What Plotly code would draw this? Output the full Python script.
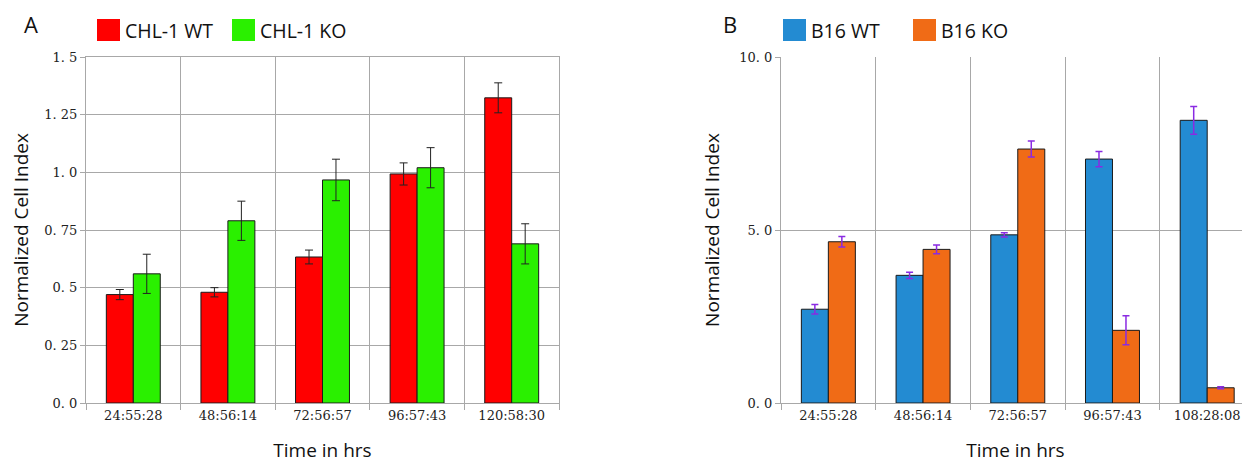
import plotly.graph_objects as go

# ---- data ----
times_a = ["24:55:28", "48:56:14", "72:56:57", "96:57:43", "120:58:30"]
chl_wt = [0.47, 0.48, 0.633, 0.993, 1.323]
chl_wt_err = [0.022, 0.02, 0.03, 0.048, 0.065]
chl_ko = [0.56, 0.79, 0.967, 1.02, 0.69]
chl_ko_err = [0.085, 0.085, 0.09, 0.087, 0.087]

times_b = ["24:55:28", "48:56:14", "72:56:57", "96:57:43", "108:28:08"]
b16_wt = [2.71, 3.69, 4.86, 7.05, 8.17]
b16_wt_err = [0.14, 0.09, 0.06, 0.22, 0.40]
b16_ko = [4.66, 4.44, 7.34, 2.10, 0.44]
b16_ko_err = [0.15, 0.13, 0.23, 0.42, 0.03]

yticks_a = [0, 0.25, 0.5, 0.75, 1.0, 1.25, 1.5]
yticklabels_a = ["0. 0", "0. 25", "0. 5", "0. 75", "1. 0", "1. 25", "1. 5"]
yticks_b = [0, 5, 10]
yticklabels_b = ["0. 0", "5. 0", "10. 0"]

RED = "#FF0000"
GREEN = "#2AF000"
BLUE = "#238BD2"
ORANGE = "#F06B16"

# page has an 8px body margin; figure fills the rest of the 1250x473 window
OFF = 8
W, H = 1250 - OFF, 473 - OFF

fig = go.Figure()

def bar(x, y, err, color, ecolor, ethick, ewidth, xa, ya, name):
    fig.add_trace(go.Bar(
        x=x, y=y, name=name, xaxis=xa, yaxis=ya, showlegend=False,
        marker=dict(color=color, line=dict(color="#1a1a1a", width=1)),
        error_y=dict(type="data", array=err, visible=True, color=ecolor,
                     thickness=ethick, width=ewidth),
    ))

bar(times_a, chl_wt, chl_wt_err, RED, "#222222", 1, 4, "x", "y", "CHL-1 WT")
bar(times_a, chl_ko, chl_ko_err, GREEN, "#222222", 1, 4, "x", "y", "CHL-1 KO")
bar(times_b, b16_wt, b16_wt_err, BLUE, "#8A2BE2", 1.5, 3.5, "x2", "y2", "B16 WT")
bar(times_b, b16_ko, b16_ko_err, ORANGE, "#8A2BE2", 1.5, 3.5, "x2", "y2", "B16 KO")

def px_x(p):  # screen px -> paper
    return (p - OFF) / W

def px_y(p):
    return (H - (p - OFF)) / H

ydom = [px_y(403), px_y(57)]
grid = "#A8A8A8"
tickfont = dict(family="DejaVu Serif", size=13, color="#222")
titlefont = dict(family="Open Sans", size=19, color="#111")

xcommon = dict(type="category", tickson="boundaries", showgrid=True, gridcolor=grid,
               gridwidth=1, ticks="outside", ticklen=6, tickcolor=grid,
               showline=True, linecolor=grid, linewidth=1, tickfont=tickfont,
               automargin=False,
               title=dict(text="Time in hrs", font=titlefont, standoff=22))

fig.update_layout(
    width=W, height=H, margin=dict(l=0, r=0, t=0, b=0),
    plot_bgcolor="white", paper_bgcolor="white",
    barmode="group", bargap=0.43, bargroupgap=0,
    xaxis=dict(domain=[px_x(86), px_x(559)], anchor="y", range=[-0.5, 4.5],
               mirror=True, **xcommon),
    yaxis=dict(domain=ydom, anchor="x", range=[0, 1.5], tickvals=yticks_a,
               ticktext=yticklabels_a, showgrid=True, gridcolor=grid, ticks="outside",
               ticklen=5, tickcolor=grid, showline=True, linecolor=grid, mirror=True,
               tickfont=tickfont, zeroline=False, automargin=False,
               title=dict(text="Normalized Cell Index", font=titlefont, standoff=12)),
    xaxis2=dict(domain=[px_x(781), 1.0], anchor="y2", range=[-0.5, 4.452], **xcommon),
    yaxis2=dict(domain=ydom, anchor="x2", range=[0, 10], tickvals=yticks_b,
                ticktext=yticklabels_b, showgrid=True, gridcolor=grid, ticks="outside",
                ticklen=5, tickcolor=grid, showline=True, linecolor=grid,
                tickfont=tickfont, zeroline=False, automargin=False,
                title=dict(text="Normalized Cell Index", font=titlefont, standoff=14)),
)

# panel letters and legends (drawn as swatches + text)
legend_items = [
    (97, "CHL-1 WT", RED), (232, "CHL-1 KO", GREEN),
    (783, "B16 WT", BLUE), (913, "B16 KO", ORANGE),
]
for x0, label, color in legend_items:
    fig.add_shape(type="rect", xref="paper", yref="paper",
                  x0=px_x(x0), x1=px_x(x0 + 23), y0=px_y(41), y1=px_y(19),
                  fillcolor=color, line=dict(width=0))
    fig.add_annotation(x=px_x(x0 + 26), y=px_y(30), xref="paper", yref="paper",
                       text=label, showarrow=False, xanchor="left", yanchor="middle",
                       font=dict(family="Open Sans", size=19.5, color="#111"))

for x, letter in [(31, "A"), (730, "B")]:
    fig.add_annotation(x=px_x(x), y=1.0, xref="paper", yref="paper",
                       text=letter, showarrow=False, xanchor="center", yanchor="top",
                       borderpad=0,
                       font=dict(family="Open Sans", size=22, color="#111"))

fig.write_html("out.html")
